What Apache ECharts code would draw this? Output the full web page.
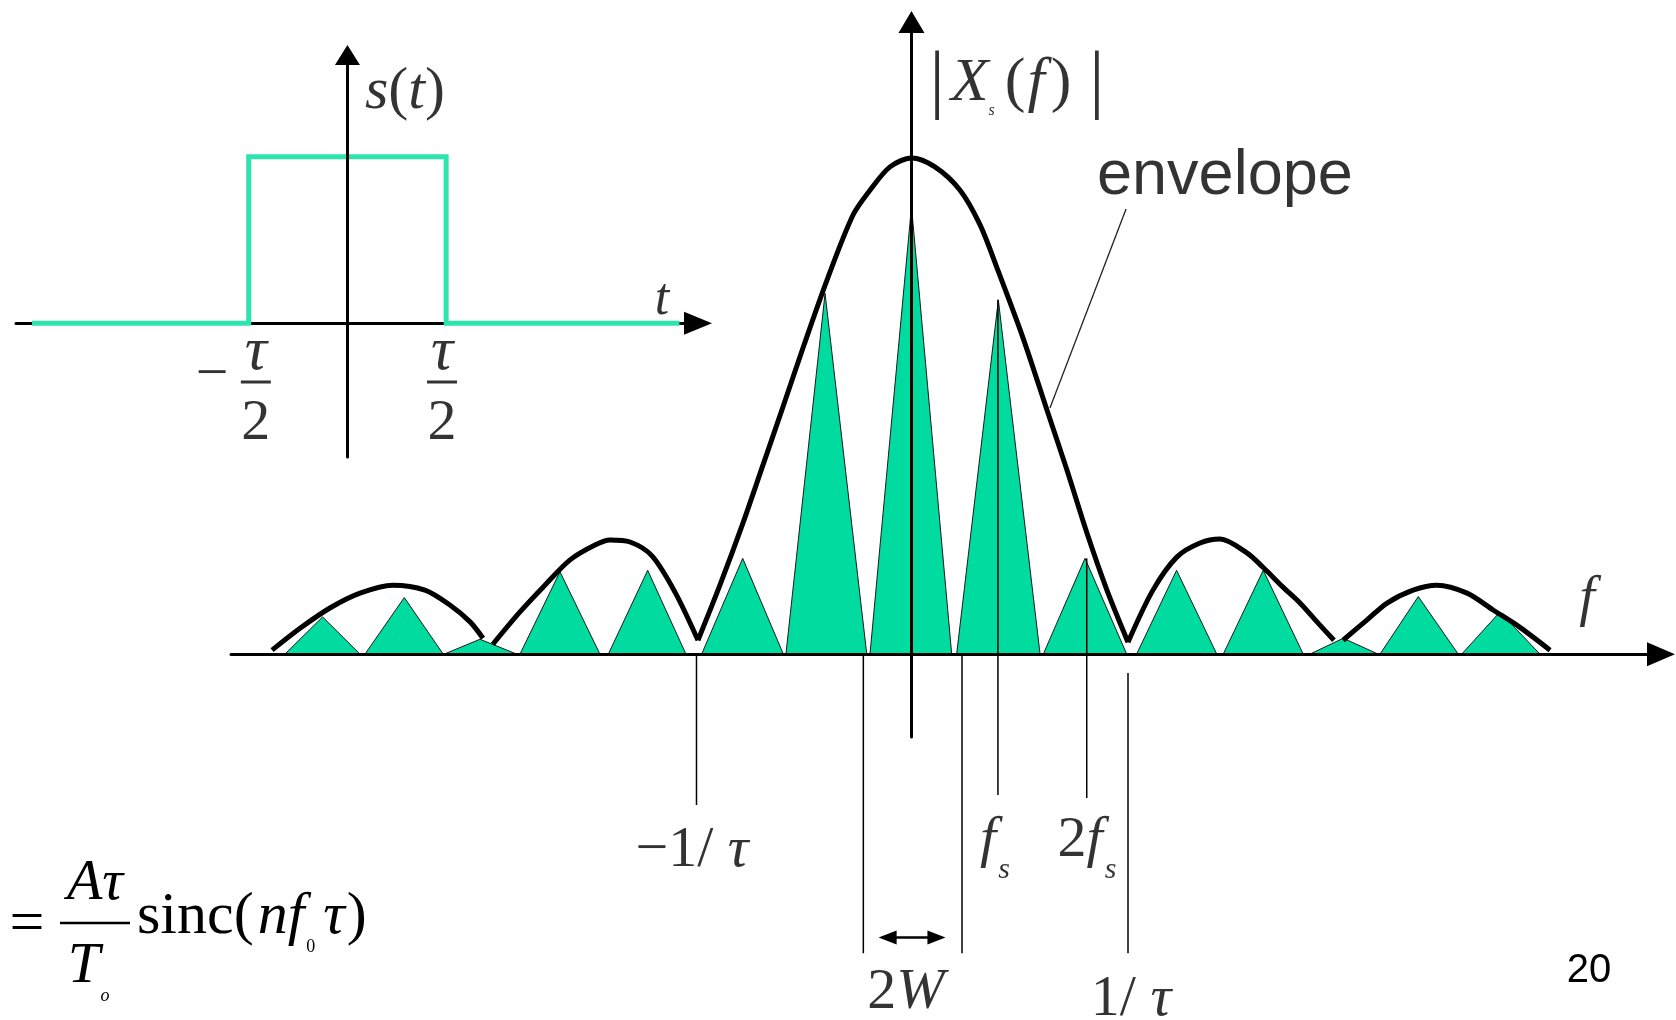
<!DOCTYPE html>
<html>
<head>
<meta charset="utf-8">
<script src="https://cdn.jsdelivr.net/npm/echarts@6/dist/echarts.min.js"></script>
<style>
  html, body { margin: 0; background: #fff; }
  #chart { width: 1676px; height: 1020px; }
</style>
</head>
<body>
<div id="chart"></div>
<script>
// spectrum |Xs(f)|: f in units of 1/tau, magnitude relative to envelope peak
const envelopeLeft2 = [[-2.974, 0.008], [-2.844, 0.052], [-2.705, 0.093], [-2.565, 0.123], [-2.412, 0.139],
  [-2.263, 0.129], [-2.147, 0.099], [-2.053, 0.065], [-1.993, 0.032]];
const envelopeLeft1 = [[-1.947, 0.020], [-1.821, 0.085], [-1.705, 0.139], [-1.588, 0.190], [-1.472, 0.220],
  [-1.402, 0.230], [-1.309, 0.226], [-1.207, 0.198], [-1.100, 0.125], [-0.993, 0.028]];
const envelopeMain = [[-0.993, 0.028], [-0.891, 0.139], [-0.784, 0.264], [-0.691, 0.381], [-0.598, 0.498],
  [-0.500, 0.623], [-0.393, 0.754], [-0.272, 0.885], [-0.193, 0.935], [-0.100, 0.982], [0.0, 1.0],
  [0.109, 0.982], [0.226, 0.935], [0.319, 0.865], [0.398, 0.778], [0.519, 0.637], [0.630, 0.492],
  [0.723, 0.371], [0.816, 0.244], [0.909, 0.129], [1.007, 0.024]];
const envelopeRight1 = [[1.007, 0.024], [1.123, 0.129], [1.235, 0.196], [1.342, 0.224], [1.435, 0.232],
  [1.560, 0.204], [1.635, 0.175], [1.728, 0.135], [1.807, 0.103], [1.886, 0.065], [1.965, 0.028]];
const envelopeRight2 = [[2.007, 0.028], [2.119, 0.069], [2.212, 0.103], [2.333, 0.129], [2.444, 0.139],
  [2.584, 0.123], [2.705, 0.089], [2.830, 0.054], [2.970, 0.008]];

// sampled spectrum copies: [left foot, peak, right foot, height]
const sampledSpectra = [
  [-2.914, -2.739, -2.565, 0.075], [-2.542, -2.359, -2.178, 0.114], [-2.174, -2.007, -1.836, 0.030],
  [-1.821, -1.635, -1.449, 0.166], [-1.410, -1.227, -1.049, 0.169], [-0.976, -0.785, -0.596, 0.193],
  [-0.584, -0.402, -0.208, 0.727], [-0.193, 0.0, 0.187, 0.902], [0.210, 0.404, 0.598, 0.714],
  [0.613, 0.807, 1.001, 0.193], [1.047, 1.233, 1.420, 0.169], [1.450, 1.636, 1.822, 0.169],
  [1.853, 2.008, 2.171, 0.032], [2.179, 2.357, 2.543, 0.116], [2.559, 2.737, 2.923, 0.085]
];

// thin marker lines: [f, top, bottom]
const markerLines = [
  [-1.0, 0, -0.304],     // -1/tau
  [-0.224, 0, -0.603],   // 2W left
  [0.235, 0, -0.603],    // 2W right
  [0.402, 0.714, -0.284],// fs
  [0.815, 0.193, -0.290],// 2fs
  [1.007, -0.038, -0.603]// 1/tau
];
const bandwidthArrow = [[-0.153, 0.158, -0.571]];
const envelopePointer = [[0.998, 0.897], [0.644, 0.496]];

// rectangular pulse s(t): t in units of tau
const pulse = [[-1.598, 0], [-0.5, 0], [-0.5, 1], [0.5, 1], [0.5, 0], [1.682, 0]];

const F_MIN = -3.165, F_MAX = 3.486, X_MIN = -0.167, X_MAX = 1.274;
const T_MIN = -1.679, T_MAX = 1.776, S_MIN = -0.802, S_MAX = 1.610;

const TEAL = '#00DCA0';
const PULSE_GREEN = '#2EE3AE';
const SERIF = 'Liberation Serif';

const chart = echarts.init(document.getElementById('chart'));

function axis(gridIndex, min, max, z, arrow) {
  return {
    gridIndex, type: 'value', min, max, z,
    axisLine: { show: true, onZero: true, symbol: ['none', 'triangle'], symbolSize: arrow,
      lineStyle: { color: '#000', width: 3 } },
    axisTick: { show: false }, axisLabel: { show: false }, splitLine: { show: false }
  };
}

function envelopeSeries(data) {
  return {
    type: 'line', xAxisIndex: 0, yAxisIndex: 0, data, smooth: 0.3, symbol: 'none',
    clip: false, z: 3, silent: true,
    lineStyle: { color: '#000', width: 5, join: 'round' }
  };
}

const serifBase = { fontFamily: SERIF, fontSize: 58, color: '#000', align: 'center' };
const it = Object.assign({}, serifBase, { fontStyle: 'italic' });

function textPoint(value, formatter, rich, align) {
  return {
    value,
    label: { show: true, position: 'inside', formatter, rich,
      align: align || 'center', verticalAlign: 'middle', color: '#000' }
  };
}

const spectrumLabels = [
  textPoint([0.491, 1.149], '{b||}{x|X}{s|s}{p|(}{f|f}{q|)}{b||}', {
    b: { fontFamily: SERIF, fontSize: 76, color: '#000' },
    x: { fontFamily: SERIF, fontStyle: 'italic', fontSize: 62, padding: [0, 0, 0, 6], color: '#000' },
    s: { fontFamily: SERIF, fontStyle: 'italic', fontSize: 16, padding: [54, 0, 0, 0], lineHeight: 20, color: '#000' },
    p: { fontFamily: SERIF, fontSize: 62, padding: [0, 0, 0, 10], color: '#000' },
    f: { fontFamily: SERIF, fontStyle: 'italic', fontSize: 62, padding: [0, 6, 0, 2], color: '#000' },
    q: { fontFamily: SERIF, fontSize: 62, padding: [0, 18, 0, 0], color: '#000' }
  }),
  textPoint([0.863, 0.962], '{e|envelope}', {
    e: { fontFamily: 'Liberation Sans', fontSize: 63, color: '#000' }
  }, 'left'),
  textPoint([3.142, 0.109], '{i|f}', { i: Object.assign({}, it, { fontSize: 56 }) }),
  textPoint([-1.021, -0.397], '{n|−1/ }{i|τ}', { n: serifBase, i: it }),
  textPoint([0.388, -0.377], '{i|f}{s|s}', {
    i: it, s: Object.assign({}, it, { fontSize: 30, padding: [58, 0, 0, 2], lineHeight: 30 })
  }),
  textPoint([0.816, -0.377], '{n|2}{i|f}{s|s}', {
    n: serifBase, i: it, s: Object.assign({}, it, { fontSize: 30, padding: [58, 0, 0, 2], lineHeight: 30 })
  }),
  textPoint([-0.026, -0.683], '{n|2}{i|W}', { n: serifBase, i: it }),
  textPoint([1.021, -0.696], '{n|1/ }{i|τ}', { n: serifBase, i: it })
];

const fractionRich = {
  t: Object.assign({}, it, { fontSize: 62, lineHeight: 48 }),
  bar: { width: 30, height: 3, backgroundColor: '#000', lineHeight: 10, fontSize: 4, align: 'center' },
  n: Object.assign({}, serifBase, { lineHeight: 74 })
};
const pulseLabels = [
  textPoint([0.291, 1.385], '{i|s}{n|(}{i|t}{n|)}', {
    i: Object.assign({}, it, { fontSize: 60 }), n: Object.assign({}, serifBase, { fontSize: 60 })
  }),
  textPoint([1.594, 0.140], '{i|t}', { i: Object.assign({}, it, { fontSize: 52 }) }),
  textPoint([-0.464, -0.430], '{t|τ}\n{bar| }\n{n|2}', fractionRich),
  textPoint([0.479, -0.430], '{t|τ}\n{bar| }\n{n|2}', fractionRich),
  textPoint([-0.686, -0.316], '{n|−}', { n: serifBase })
];

chart.setOption({
  backgroundColor: '#fff',
  animation: false,
  grid: [
    { left: 231, right: 15, top: 22, bottom: 283, outerBoundsMode: 'none' },
    { left: 16, right: 978, top: 55, bottom: 563, outerBoundsMode: 'none' }
  ],
  xAxis: [axis(0, F_MIN, F_MAX, 5, [24, 28]), axis(1, T_MIN, T_MAX, 0, [23, 28])],
  yAxis: [axis(0, X_MIN, X_MAX, 5, [26, 22]), axis(1, S_MIN, S_MAX, 5, [25, 20])],
  series: [
    {
      type: 'custom', name: 'sampled spectra', xAxisIndex: 0, yAxisIndex: 0, clip: false, z: 2,
      silent: true,
      data: sampledSpectra,
      renderItem: function (params, api) {
        const a = api.coord([api.value(0), 0]);
        const b = api.coord([api.value(1), api.value(3)]);
        const c = api.coord([api.value(2), 0]);
        return { type: 'polygon', shape: { points: [a, b, c] },
          style: { fill: TEAL, stroke: '#1a1a1a', lineWidth: 1 } };
      }
    },
    envelopeSeries(envelopeLeft2),
    envelopeSeries(envelopeLeft1),
    envelopeSeries(envelopeMain),
    envelopeSeries(envelopeRight1),
    envelopeSeries(envelopeRight2),
    {
      type: 'line', xAxisIndex: 0, yAxisIndex: 0, data: envelopePointer, symbol: 'none',
      clip: false, z: 4, silent: true, lineStyle: { color: '#222', width: 1.3 }
    },
    {
      type: 'custom', name: 'markers', xAxisIndex: 0, yAxisIndex: 0, clip: false, z: 4, silent: true,
      data: markerLines,
      renderItem: function (params, api) {
        const p1 = api.coord([api.value(0), api.value(1)]);
        const p2 = api.coord([api.value(0), api.value(2)]);
        return { type: 'line', shape: { x1: p1[0], y1: p1[1], x2: p2[0], y2: p2[1] },
          style: { stroke: '#000', lineWidth: 1.5 } };
      }
    },
    {
      type: 'custom', name: '2W', xAxisIndex: 0, yAxisIndex: 0, clip: false, z: 4, silent: true,
      data: bandwidthArrow,
      renderItem: function (params, api) {
        const p1 = api.coord([api.value(0), api.value(2)]);
        const p2 = api.coord([api.value(1), api.value(2)]);
        const L = 18, H = 7;
        return { type: 'group', children: [
          { type: 'line', shape: { x1: p1[0] + 4, y1: p1[1], x2: p2[0] - 4, y2: p2[1] },
            style: { stroke: '#000', lineWidth: 2.5 } },
          { type: 'polygon', shape: { points: [[p1[0], p1[1]], [p1[0] + L, p1[1] - H], [p1[0] + L, p1[1] + H]] },
            style: { fill: '#000' } },
          { type: 'polygon', shape: { points: [[p2[0], p2[1]], [p2[0] - L, p2[1] - H], [p2[0] - L, p2[1] + H]] },
            style: { fill: '#000' } }
        ] };
      }
    },
    {
      type: 'scatter', xAxisIndex: 0, yAxisIndex: 0, data: spectrumLabels, symbolSize: 1, clip: false,
      silent: true, z: 6, itemStyle: { color: 'rgba(0,0,0,0)' }
    },
    {
      type: 'line', xAxisIndex: 1, yAxisIndex: 1, data: pulse, symbol: 'none', clip: false, z: 2,
      silent: true, lineStyle: { color: PULSE_GREEN, width: 5, join: 'miter', cap: 'butt' }
    },
    {
      type: 'scatter', xAxisIndex: 1, yAxisIndex: 1, data: pulseLabels, symbolSize: 1, clip: false,
      silent: true, z: 6, itemStyle: { color: 'rgba(0,0,0,0)' }
    }
  ],
  graphic: [
    { type: 'text', style: { text: '=', x: 27, y: 926, font: '62px "Liberation Serif"', fill: '#000', align: 'center', verticalAlign: 'middle' } },
    { type: 'text', style: { text: 'Aτ', x: 95, y: 884, font: 'italic 58px "Liberation Serif"', fill: '#000', align: 'center', verticalAlign: 'middle' } },
    { type: 'line', shape: { x1: 60, y1: 923, x2: 130, y2: 923 }, style: { stroke: '#000', lineWidth: 2.5 } },
    { type: 'text', style: { text: 'T', x: 84, y: 967, font: 'italic 58px "Liberation Serif"', fill: '#000', align: 'center', verticalAlign: 'middle' } },
    { type: 'text', style: { text: 'o', x: 105, y: 996, font: 'italic 18px "Liberation Serif"', fill: '#000', align: 'center', verticalAlign: 'middle' } },
    { type: 'text', style: {
      text: '{r|sinc(}{i|nf}{s|0}{i|τ}{r|)}', x: 137, y: 917, align: 'left', verticalAlign: 'middle',
      rich: {
        r: { fontFamily: SERIF, fontSize: 60, fill: '#000' },
        i: { fontFamily: SERIF, fontStyle: 'italic', fontSize: 60, fill: '#000', padding: [0, 2, 0, 4] },
        s: { fontFamily: SERIF, fontSize: 18, fill: '#000', padding: [60, 4, 0, 0], lineHeight: 20 }
      } } },
    { type: 'text', style: { text: '20', x: 1589, y: 971, font: '40px "Liberation Sans"', fill: '#000', align: 'center', verticalAlign: 'middle' } }
  ]
});
</script>
</body>
</html>
